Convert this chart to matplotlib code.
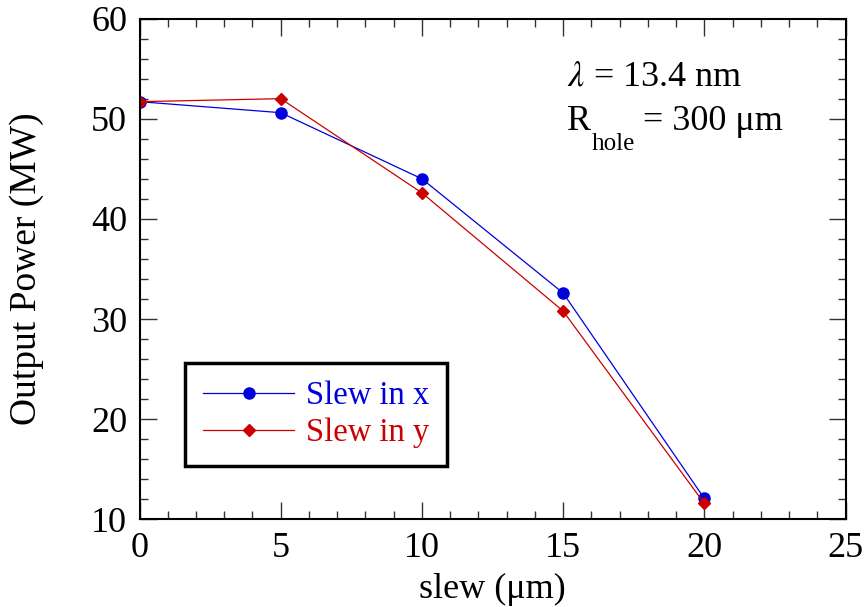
import matplotlib.pyplot as plt
from matplotlib.ticker import MultipleLocator

plt.rcParams['font.family'] = ['Liberation Serif', 'DejaVu Serif']
plt.rcParams['mathtext.fontset'] = 'stix'

# slew offset (um) and output power (MW)
slew = [0, 5, 10, 15, 20]
power_x = [51.7, 50.6, 44.0, 32.6, 12.1]
power_y = [51.7, 52.0, 42.6, 30.8, 11.6]

blue = '#0000dd'
red = '#cc0000'

fig = plt.figure(figsize=(8.64, 6.07), dpi=100)
ax = fig.add_axes([0.1615, 0.1442, 0.8171, 0.8253])

ax.plot(slew, power_x, '-o', color=blue, lw=0.9, ms=8, label='Slew in x')
ax.plot(slew, power_y, '-D', color=red, lw=0.9, ms=6, label='Slew in y')

ax.set_xlim(0, 25)
ax.set_ylim(10, 60)
ax.xaxis.set_major_locator(MultipleLocator(5))
ax.xaxis.set_minor_locator(MultipleLocator(1))
ax.yaxis.set_major_locator(MultipleLocator(10))
ax.yaxis.set_minor_locator(MultipleLocator(2))
ax.tick_params(which='both', direction='in', top=True, right=True,
               labelsize=26, width=1.0, color='#333333')
ax.tick_params(which='major', length=12, pad=9)
ax.tick_params(which='minor', length=6)
for s in ax.spines.values():
    s.set_linewidth(1.5)

ax.set_xlabel('slew (μm)', fontsize=26, labelpad=6)
ax.set_ylabel('Output Power (MW)', fontsize=27, labelpad=34)

leg = ax.legend(loc='upper left', bbox_to_anchor=(185 / 864, 1 - 363 / 607),
                bbox_transform=fig.transFigure, fontsize=23.5, frameon=True,
                fancybox=False, edgecolor='black', framealpha=1,
                handlelength=2.8, handletextpad=0.35, borderpad=0.55,
                labelspacing=0.2, borderaxespad=0)
leg.get_frame().set_linewidth(2.5)
for txt, c in zip(leg.get_texts(), [blue, red]):
    txt.set_color(c)

fig.text(567 / 864, 1 - 85 / 607, r'$\lambda$ = 13.4 nm', fontsize=26, va='baseline')
fig.text(567 / 864, 1 - 130 / 607, 'R', fontsize=26, va='baseline')
fig.text(592 / 864, 1 - 150 / 607, 'hole', fontsize=18, va='baseline')
fig.text(643 / 864, 1 - 130 / 607, '= 300 μm', fontsize=26, va='baseline')

fig.savefig('out.png', dpi=100)
